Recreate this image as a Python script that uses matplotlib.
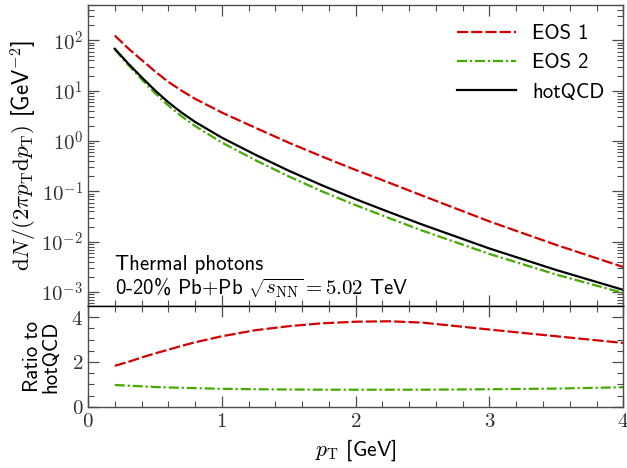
import matplotlib
matplotlib.use("Agg")
import matplotlib.pyplot as plt
from matplotlib.ticker import MultipleLocator, LogLocator, NullFormatter, FixedLocator, FixedFormatter

plt.rcParams['mathtext.fontset'] = 'cm'
plt.rcParams['font.family'] = ['cmss10', 'DejaVu Sans']
plt.rcParams['font.size'] = 15

# data
pt = [0.2, 0.3, 0.4, 0.5, 0.6, 0.7, 0.8, 1.0, 1.25, 1.5, 1.75, 2.0, 2.25, 2.5, 3.0, 3.5, 4.0]
hotqcd = [68, 34.7, 18.6, 10.2, 5.9, 3.67, 2.4, 1.17, 0.537, 0.258, 0.132, 0.0703, 0.0389,
          0.0219, 0.00736, 0.00275, 0.00111]
eos1 = [124.4, 69.4, 40.9, 24.3, 15.0, 10.0, 6.91, 3.69, 1.84, 0.929, 0.492, 0.267, 0.149,
        0.0823, 0.0254, 0.00866, 0.00316]
eos2 = [66.0, 32.6, 16.9, 8.98, 5.07, 3.1, 1.99, 0.936, 0.419, 0.199, 0.100, 0.0534, 0.0296,
        0.0166, 0.00574, 0.00223, 0.000966]
ratio1 = [1.83, 2.0, 2.2, 2.38, 2.55, 2.72, 2.88, 3.15, 3.42, 3.6, 3.73, 3.8, 3.82, 3.76, 3.45, 3.15, 2.85]
ratio2 = [0.97, 0.94, 0.91, 0.88, 0.86, 0.845, 0.83, 0.80, 0.78, 0.77, 0.76, 0.76, 0.76, 0.76, 0.78, 0.81, 0.87]
labels = ['EOS 1', 'EOS 2', 'hotQCD']
log_ticks = [1e-3, 1e-2, 1e-1, 1, 10, 100]
log_labels = [r'$10^{-3}$', r'$10^{-2}$', r'$10^{-1}$', r'$10^{0}$', r'$10^{1}$', r'$10^{2}$']
ratio_ticks = [0, 2, 4]
x_ticks = [0, 1, 2, 3, 4]

red = '#d40000'
green = '#44aa00'
spc = '0.3'

fig = plt.figure(figsize=(6.27, 4.68), dpi=100)
ax1 = fig.add_axes([0.1404, 0.346, 0.8537, 0.643])
ax2 = fig.add_axes([0.1404, 0.131, 0.8537, 0.215], sharex=ax1)

lw = 1.6
ax1.plot(pt, eos1, color=red, lw=lw, dashes=(5, 1.4), label=labels[0])
ax1.plot(pt, eos2, color=green, lw=lw, dashes=(4.5, 1.3, 1.0, 1.3), label=labels[1])
ax1.plot(pt, hotqcd, color='black', lw=lw, label=labels[2])
ax2.plot(pt, ratio1, color=red, lw=lw, dashes=(5, 1.4))
ax2.plot(pt, ratio2, color=green, lw=lw, dashes=(4.5, 1.3, 1.0, 1.3))

ax1.set_yscale('log')
ax1.set_ylim(5.3e-4, 500)
ax1.set_xlim(0, 4)
ax2.set_ylim(0, 4.5)

ax1.yaxis.set_major_locator(FixedLocator(log_ticks))
ax1.yaxis.set_major_formatter(FixedFormatter(log_labels))
ax1.yaxis.set_minor_locator(LogLocator(base=10, subs=range(2, 10), numticks=20))
ax1.yaxis.set_minor_formatter(NullFormatter())
ax1.xaxis.set_major_locator(FixedLocator(x_ticks))
ax1.xaxis.set_minor_locator(MultipleLocator(0.2))
ax2.yaxis.set_major_locator(FixedLocator(ratio_ticks))
ax2.yaxis.set_major_formatter(FixedFormatter([r'$%d$' % v for v in ratio_ticks]))
ax2.yaxis.set_minor_locator(MultipleLocator(0.5))
ax2.xaxis.set_major_formatter(FixedFormatter([r'$%d$' % v for v in x_ticks]))
plt.setp(ax1.get_xticklabels(), visible=False)

for ax in (ax1, ax2):
    ax.tick_params(which='both', direction='in', top=True, right=True, colors=spc,
                   labelcolor='#333333', labelsize=15)
    ax.tick_params(which='major', length=8, width=0.9)
    ax.tick_params(which='minor', length=4, width=0.8)
    for s in ax.spines.values():
        s.set_color(spc)
        s.set_linewidth(1.0)
ax1.spines['bottom'].set_color('black')
ax2.spines['top'].set_color('black')

ax1.set_ylabel(r'$\mathrm{d}N/(2\pi p_\mathrm{T}\mathrm{d}p_\mathrm{T})$ [GeV$^{-2}$]', fontsize=16.5,
               labelpad=2)
ax2.set_ylabel('Ratio to\nhotQCD', fontsize=15, linespacing=0.95, labelpad=8)
ax2.set_xlabel(r'$p_\mathrm{T}$ [GeV]', fontsize=15.5, labelpad=5)
fig.align_ylabels([ax1, ax2])

leg = ax1.legend(loc='upper right', frameon=False, handlelength=2.8, fontsize=15,
                 labelspacing=0.5, borderaxespad=0.5, handletextpad=0.8)

ax1.text(0.05, 0.138, 'Thermal photons', transform=ax1.transAxes, fontsize=15,
         va='center', ha='left')
ax1.text(0.05, 0.062, r'0-20% Pb$+$Pb $\sqrt{s_\mathrm{NN}}=5.02$ TeV', transform=ax1.transAxes,
         fontsize=15, va='center', ha='left')

fig.savefig('out.png', dpi=100)
